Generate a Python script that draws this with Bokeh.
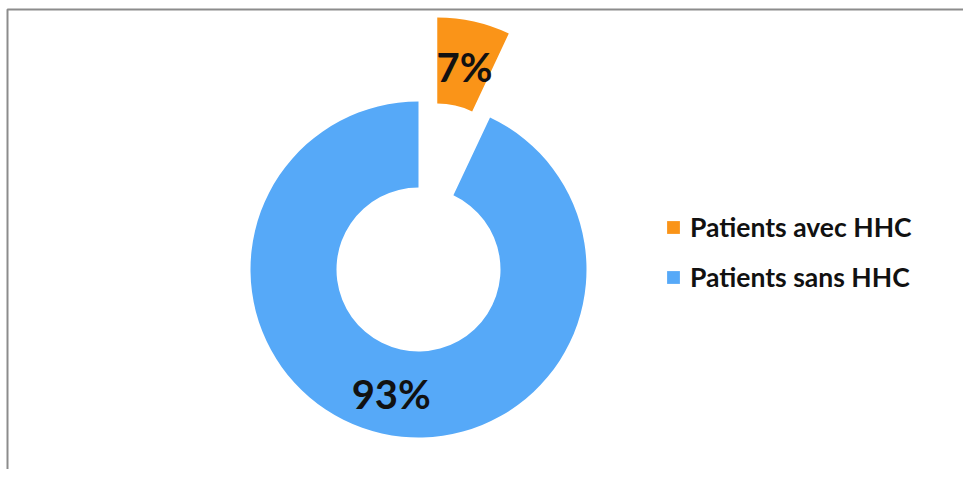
import math
from bokeh.plotting import figure
from bokeh.models import Range1d, ColumnDataSource, Legend, LegendItem
from bokeh.core.properties import value
from bokeh.embed import file_html
from bokeh.resources import INLINE

categories = ["Patients avec HHC", "Patients sans HHC"]
shares = [7, 93]
labels = ["7%", "93%"]
colors = ["#FA9418", "#56A9F8"]

W, H = 963, 469
cx, cy = 418, 200
r_in, r_out = 82, 168
explode = [86, 0]

p = figure(width=W, height=H, output_backend="svg", toolbar_location=None,
           x_range=Range1d(0, W), y_range=Range1d(0, H), min_border=0,
           outline_line_color=None)
p.axis.visible = False
p.grid.visible = False

total = sum(shares)
start = math.pi / 2
xs, ys, st, en, lx, ly = [], [], [], [], [], []
cur = start
for s, e in zip(shares, explode):
    ang = 2 * math.pi * s / total
    a_end = cur
    a_start = cur - ang
    mid = (a_start + a_end) / 2
    ox = cx + e * math.cos(mid)
    oy = cy + e * math.sin(mid)
    xs.append(ox); ys.append(oy)
    st.append(a_start); en.append(a_end)
    rm = (r_in + r_out) / 2
    lx.append(ox + rm * math.cos(mid)); ly.append(oy + rm * math.sin(mid) - 3)
    cur = a_start

src = ColumnDataSource(dict(x=xs, y=ys, start=st, end=en, color=colors,
                            cat=categories, lx=lx, ly=ly, label=labels))
r = p.annular_wedge(x="x", y="y", inner_radius=r_in, outer_radius=r_out,
                    start_angle="start", end_angle="end", fill_color="color",
                    line_color=None, source=src)
p.text(x="lx", y="ly", text="label", source=src, text_align="center",
       text_baseline="middle", text_font=value("Lato"), text_font_style="bold",
       text_font_size="40px", text_color="#111111")

# frame lines (top and left edges)
p.line(x=[7, 7, W], y=[0, H - 9, H - 9], line_color="#8C8C8C", line_width=2)

legend = Legend(items=[LegendItem(label=categories[i], renderers=[r], index=i) for i in range(2)],
                location=(665, 176), orientation="vertical",
                label_text_font="Lato", label_text_font_style="bold",
                label_text_font_size="26.5px", label_text_color="#111111",
                glyph_width=16, glyph_height=16, spacing=18, label_standoff=9,
                border_line_color=None, background_fill_alpha=0, padding=0, margin=0)
p.add_layout(legend)

open("out.html", "w").write(file_html(p, INLINE))
